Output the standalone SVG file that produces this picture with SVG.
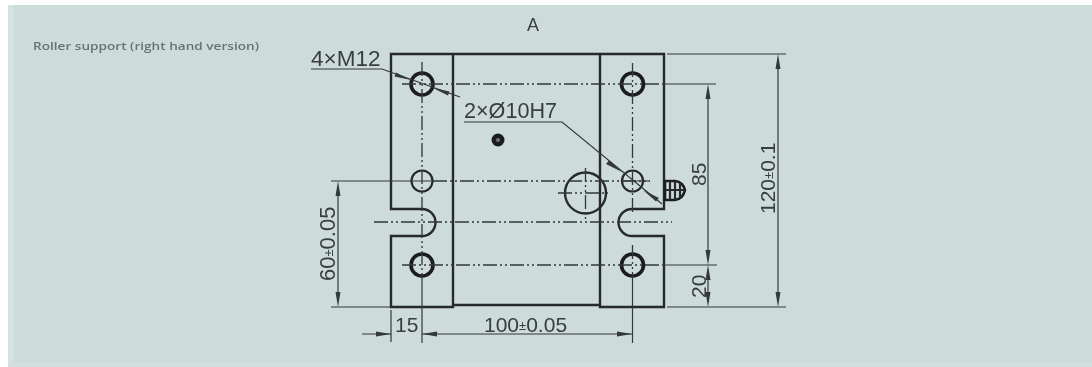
<svg xmlns="http://www.w3.org/2000/svg" width="1092" height="367" viewBox="0 0 1092 367">
<defs><filter id="b" x="-5%" y="-5%" width="110%" height="110%"><feGaussianBlur stdDeviation="0.55"/></filter>
<filter id="b2" x="-5%" y="-50%" width="110%" height="200%"><feGaussianBlur stdDeviation="0.6"/></filter></defs>
<style>
.o{fill:none;stroke:#26292a;stroke-width:2.4}
.thin{fill:none;stroke:#33383a;stroke-width:1.2}
.c{fill:none;stroke:#33383a;stroke-width:1.3;stroke-dasharray:14 3 2 3 2 3}
.h{fill:none;stroke:#1c1e1f;stroke-width:3.6}
.h2{fill:none;stroke:#26292a;stroke-width:2.2}
.a{fill:#33383a}
text{font-family:"Liberation Sans",Arial,sans-serif;fill:#393e3f}
.d{font-size:21px}
.p{font-size:13px}
</style>
<rect width="1092" height="367" fill="#ffffff"/>
<rect x="8" y="5" width="1084" height="362" fill="#cedbdb"/>
<rect x="8" y="5" width="6" height="362" fill="#d6e2e1"/>
<rect x="8" y="362" width="1084" height="5" fill="#d3dfdf"/>
<g filter="url(#b2)"><text x="33" y="50" font-size="11.500" textLength="226" lengthAdjust="spacingAndGlyphs" style="fill:#667375;font-family:'Open Sans',sans-serif" font-weight="600">Roller support (right hand version)</text></g>
<g filter="url(#b)">
<text x="527" y="31" font-size="18">A</text>
<g id="part">
<path class="o" d="M453 54H391V209H422A13.5 13.5 0 0 1 422 236H391V307H453V54ZM453 54H600M453 305H600M600 54H664V209H632A13.5 13.5 0 0 0 632 236H664V307H600V54Z"/>
</g>
<g id="holes">
<circle class="h" cx="422" cy="84" r="11"/>
<circle class="h2" cx="422" cy="181" r="10.500"/>
<circle class="h" cx="422" cy="265" r="11"/>
<circle class="h" cx="632.500" cy="84" r="11"/>
<circle class="h2" cx="632.500" cy="181" r="10.500"/>
<circle class="h" cx="632.500" cy="265" r="11"/>
<circle class="o" cx="585.500" cy="193" r="20.500"/>
<circle cx="498" cy="140" r="6.500" fill="#1c1e1f"/>
<circle cx="498" cy="140" r="2" fill="#6f7a7b"/>
</g>
<g id="nipple">
<path class="h" style="stroke-width:2.6" d="M665 181H675Q683 182 685 190Q683 199 675 200H665V181Z"/>
<path class="h2" d="M670 181V200M675 181V200M680 183V198M665 190H685"/>
</g>
<g id="connectors">
<path class="c" d="M402 84H664M433 181H650M374 222H672M402 265H664M422 62V274M632.500 63V215M632.500 245V274"/>
<path class="c" d="M558 193H608M585.500 168V220"/>
<path class="thin" d="M422 274V343M632.500 274V343M391 310V342M664 84H716M667 54H786M667 307H786M664 265H717M331 181H431M622 181H650M331 307H391M311 69H382L460 97M464 122H562L662 204"/>
<path class="thin" d="M778 60V301M708 90V252M708 272V301M338 190V300M362 334H391M422 334H632"/>
<path class="a" d="M778 54L775.500 69H780.500ZM778 307L775.500 292H780.500ZM708 84L705.500 99H710.500ZM708 265L705.500 250H710.500ZM708 265L705.500 280H710.500ZM708 307L705.500 292H710.500ZM338 181L335.500 196H340.500ZM338 307L335.500 292H340.500ZM391 334L376 331.500V336.500ZM422 334L437 331.500V336.500ZM632 334L617 331.500V336.500ZM411 80L396 72.500L394.500 76.500ZM433 88L448 95.500L449.500 91.500ZM622 172L609 160.500L606 164ZM643 190L656 201.500L659 198Z"/>
</g>
<g id="labels">
<text class="d" x="311" y="66" style="font-size:22.500px">4×M12</text>
<text class="d" x="464" y="118" style="font-size:21.600px">2×Ø10H7</text>
<text class="d" x="395" y="332">15</text>
<text class="d" x="484" y="332">100<tspan class="p" dy="-2">±</tspan><tspan dy="2">0.05</tspan></text>
<text class="d" transform="translate(706 186) rotate(-90)">85</text>
<text class="d" transform="translate(706 298) rotate(-90)">20</text>
<text class="d" transform="translate(775 214) rotate(-90)">120<tspan class="p" dy="-2">±</tspan><tspan dy="2">0.1</tspan></text>
<text class="d" style="font-size:22px" transform="translate(335 281) rotate(-90)">60<tspan class="p" dy="-2">±</tspan><tspan dy="2">0.05</tspan></text>
</g>
</g>
</svg>
